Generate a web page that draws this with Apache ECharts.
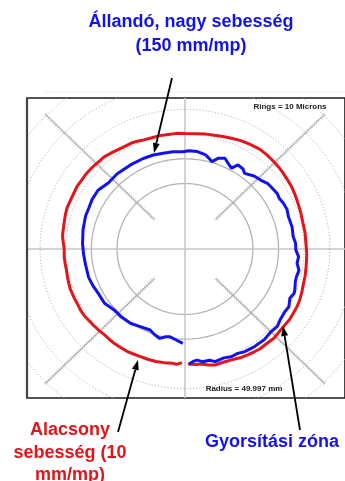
<!DOCTYPE html>
<html>
<head>
<meta charset="utf-8">
<script src="https://cdn.jsdelivr.net/npm/echarts@6/dist/echarts.min.js"></script>
<style>
html,body{margin:0;padding:0;background:#fff;}
#c{width:345px;height:481px;}
</style>
</head>
<body>
<div id="c"></div>
<script>
// Ring radii (plot units = microns, 10 microns per ring)
const ringRadii = [26.5, 36.5, 46.5, 56.5, 66.5, 76.5];
const ringSolid = [true, true, false, false, false, false];
// Diagonal scale lines
const diagAngles = [45, 135, 225, 315];
const diagFrom = 17, diagTo = 77, diagTickStep = 1;

// Red trace: low speed (10 mm/mp)
const redAngles = [-88.5,-85,-82,-79,-76,-72,-68,-64,-60,-57,-54,-50,-46,-42,-39,-35,-32,-28,-25,-21,-17,-13,-9,-5,-2,1,4,8,13,18,23,27,31,35,39,42,46,50,54,57,60,64,68,72,76,80,85,90,94,98,102,106,110,113,116,120,123,127,130,133,136,139,142,146,149,152,156,160,163,166,169,172,174,177,180,184,187,190,194,197,200,205,209,212,215,218,221,225,228,231,234,238,242,245,248,252,256,260,264,266,268.5];
const redRadii  = [46.6,46.9,47.0,47.8,48.4,48.2,48.4,49.0,49.4,49.6,49.9,49.8,50.1,49.7,49.6,49.8,49.6,49.5,49.3,48.8,48.3,48.1,47.8,47.6,47.5,47.3,47.2,47.3,47.2,47.5,47.8,48.2,48.6,48.8,49.1,49.3,49.5,49.7,49.8,49.5,49.3,48.9,48.3,47.9,47.4,47.2,46.8,46.7,46.9,46.8,46.9,46.8,47.0,47.4,47.7,47.7,47.9,48.4,48.8,48.8,48.9,49.0,49.1,49.0,49.1,48.9,48.8,48.9,48.7,48.4,48.2,48.1,48.0,47.5,47.1,47.2,47.1,47.0,47.2,47.4,47.6,47.5,47.5,47.7,47.6,47.3,47.2,47.0,46.8,47.0,47.1,47.1,47.2,47.0,46.9,46.9,46.9,46.7,46.5,46.8,46.0];

// Blue trace: constant high speed (150 mm/mp)
const blueAngles = [-88,-86,-84,-81.5,-78,-75.5,-71,-67.5,-64,-61,-56,-50,-45,-41,-37.7,-33,-30,-26,-23,-21,-17,-14.4,-11,-7.6,-4,-0.5,3,6.8,12,18,22,25.7,29,32,36,39.6,43.4,47.6,50,52.8,55,58.7,61,64,67,70.4,73.5,76,78,83,87.7,91.3,96.8,102.4,108,114,122,131,138,145,151,156,161,169,177,183,189,197,203,208,215,222,228,235,241,247.5,251,254.8,258,260.4,264.7,268.7];
const blueRadii  = [46.6,45.6,45.2,46.1,46.0,47.1,46.6,47.2,47.0,47.6,47.9,48.0,47.4,47.7,46.9,46.5,46.8,45.5,46.2,45.9,45.0,44.9,45.3,44.1,44.4,43.2,43.2,42.5,42.7,42.4,42.9,42.6,42.1,42.4,42.0,41.7,40.6,40.0,39.2,38.4,39.5,39.8,37.4,38.5,39.9,39.0,36.9,38.0,38.9,39.7,39.8,39.4,39.6,39.7,40.0,40.1,40.1,40.3,40.1,41.4,41.4,41.0,41.0,40.5,40.0,39.6,39.3,39.3,38.8,38.3,38.3,37.0,37.1,36.8,35.9,35.5,36.6,37.5,36.3,36.0,37.0,38.2];

const toXY = (a, r) => [r * Math.cos(a * Math.PI / 180), r * Math.sin(a * Math.PI / 180)];
const trace = (angles, radii) => angles.map((a, i) => toXY(a, radii[i]));
const ring = r => { const p = []; for (let a = 0; a <= 360; a += 1) p.push(toXY(a, r)); return p; };

const FONT = '"Liberation Sans", Arial, sans-serif';
const BLUE = '#1212f0';
const RED = '#e3141a';

const series = [];
ringRadii.forEach((r, i) => {
  series.push({
    type: 'line', data: ring(r), showSymbol: false, silent: true, z: 1,
    lineStyle: ringSolid[i] ? { color: '#b4b4b4', width: 1.3 } : { color: '#b4b4b4', width: 1, type: [1.2, 2] }
  });
});
const X0 = -61.6, X1 = 62.4, Y0 = -60.3, Y1 = 61.1;
series.push({ type: 'line', data: [[X0, 0], [X1, 0]], showSymbol: false, silent: true, z: 1, lineStyle: { color: '#c4c4c4', width: 1.5 } });
series.push({ type: 'line', data: [[0, Y0], [0, Y1]], showSymbol: false, silent: true, z: 1, lineStyle: { color: '#c4c4c4', width: 1.5 } });
series.push({
  type: 'custom', clip: true, z: 2, silent: true,
  data: diagAngles.map(a => [a]),
  renderItem: function (params, api) {
    const a = api.value(0) * Math.PI / 180;
    const c = Math.cos(a), s = Math.sin(a);
    const children = [];
    const p1 = api.coord([diagFrom * c, diagFrom * s]);
    const p2 = api.coord([diagTo * c, diagTo * s]);
    children.push({ type: 'line', shape: { x1: p1[0], y1: p1[1], x2: p2[0], y2: p2[1] }, style: { stroke: '#b0b0b0', lineWidth: 1.2 } });
    const h = 0.75;
    for (let r = diagFrom; r <= diagTo; r += diagTickStep) {
      const q1 = api.coord([r * c - h * s, r * s + h * c]);
      const q2 = api.coord([r * c + h * s, r * s - h * c]);
      children.push({ type: 'line', shape: { x1: q1[0], y1: q1[1], x2: q2[0], y2: q2[1] }, style: { stroke: '#bdbdbd', lineWidth: 0.8 } });
    }
    return { type: 'group', children: children };
  }
});
series.push({ type: 'line', data: trace(redAngles, redRadii), showSymbol: false, z: 5, lineStyle: { color: RED, width: 3 } });
series.push({ type: 'line', data: trace(blueAngles, blueRadii), showSymbol: false, z: 6, lineStyle: { color: BLUE, width: 3 } });

function arrow(tail, tip) {
  const dx = tip[0] - tail[0], dy = tip[1] - tail[1];
  const L = Math.sqrt(dx * dx + dy * dy), ux = dx / L, uy = dy / L;
  const hl = 10, hw = 3.5;
  const bx = tip[0] - ux * hl, by = tip[1] - uy * hl;
  return [
    { type: 'line', z: 100, shape: { x1: tail[0], y1: tail[1], x2: bx, y2: by }, style: { stroke: '#000', lineWidth: 1.8 } },
    { type: 'polygon', z: 100, shape: { points: [tip, [bx - uy * hw, by + ux * hw], [bx + uy * hw, by - ux * hw]] }, style: { fill: '#000' } }
  ];
}
function txt(x, y, s, color, size) {
  return { type: 'text', z: 100, x: x, y: y, style: { text: s, fill: color, font: 'bold ' + size + 'px ' + FONT, align: 'center', verticalAlign: 'middle' } };
}

const chart = echarts.init(document.getElementById('c'), null, { renderer: 'canvas' });
chart.setOption({
  animation: false,
  backgroundColor: '#fff',
  grid: { left: 27, top: 98, width: 326, height: 300, show: true, borderColor: '#1a1a1a', borderWidth: 1.6, backgroundColor: '#fff' },
  xAxis: { type: 'value', min: X0, max: X1, show: false },
  yAxis: { type: 'value', min: Y0, max: Y1, show: false },
  series: series,
  graphic: [
    { type: 'line', z: 90, shape: { x1: 45, y1: 92, x2: 345, y2: 92 }, style: { stroke: '#ececf7', lineWidth: 1 } },
    { type: 'line', z: 90, shape: { x1: 27, y1: 98, x2: 27, y2: 398 }, style: { stroke: '#444', lineWidth: 2.2 } },
    txt(191, 22, 'Állandó, nagy sebesség', BLUE, 18),
    txt(191, 46, '(150 mm/mp)', BLUE, 18),
    txt(70, 430, 'Alacsony', RED, 18),
    txt(70, 453, 'sebesség (10', RED, 18),
    txt(70, 475, 'mm/mp)', RED, 18),
    txt(272, 442, 'Gyorsítási zóna', BLUE, 18),
    txt(290, 107, 'Rings = 10 Microns', '#222', 8),
    txt(244, 389, 'Radius = 49.997 mm', '#222', 8)
  ].concat(arrow([172, 78], [154, 153]), arrow([118, 432], [138, 360]), arrow([300, 430], [283, 326]))
});
</script>
</body>
</html>
